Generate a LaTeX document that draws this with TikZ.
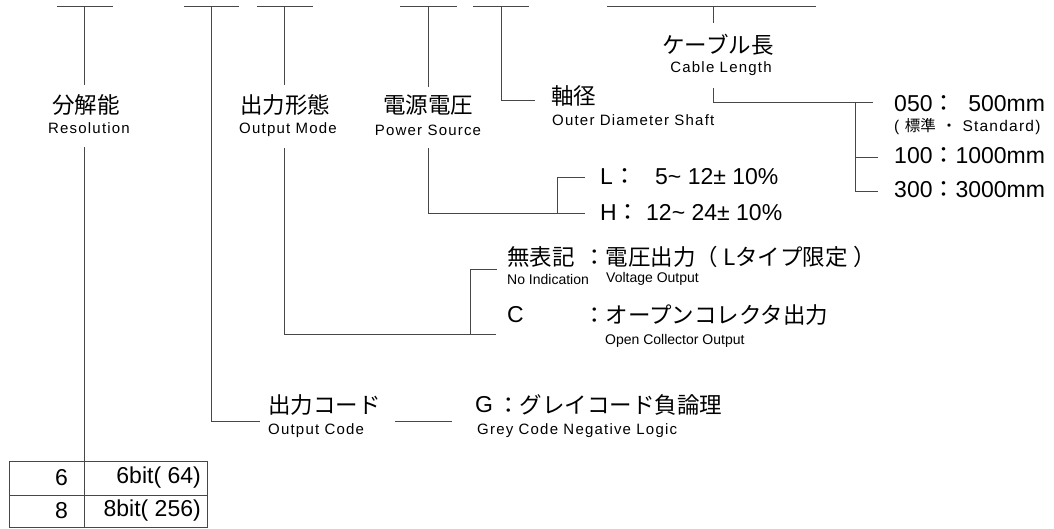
\documentclass[tikz,border=0pt]{standalone}
\usepackage{fontspec}
\setmainfont{Liberation Sans}
\newfontfamily\jp{Noto Sans CJK JP}
\newfontfamily\spc[LetterSpace=8]{Liberation Sans}
\begin{document}
\begin{tikzpicture}[x=1pt,y=-1pt,
  ln/.style={draw=black!72, line width=0.8pt},
  big/.style={inner sep=0pt, font=\fontsize{23}{26}\selectfont},
  jbig/.style={inner sep=0pt, font=\fontsize{22.5}{26}\selectfont\jp},
  lab/.style={inner sep=0pt, font=\fontsize{15}{17}\selectfont\spc},
  note/.style={inner sep=0pt, font=\fontsize{14}{16}\selectfont},
]
\useasboundingbox (0,0) rectangle (1054,528);

% top bars
\foreach \a/\b/\n in {57/113/1,184/239/2,257/313/3,400/457/4,473/529/5,607/816/6}
  {\draw[ln] (\a,6) coordinate (bl\n) -- (\b,6) coordinate (br\n);}
\coordinate (s1) at (84,6);
\coordinate (s2) at (211,6);
\coordinate (s3) at (284,6);
\coordinate (s4) at (428,6);
\coordinate (s5) at (501,6);
\coordinate (s6) at (713,6);

% Resolution
\node[jbig] (resj) at (86,105) {分解能};
\node[lab] (rese) at (89,128) {Resolution};
\coordinate (r1) at (84,85);
\coordinate (r2) at (84,147);
\coordinate (r3) at (84,527);
\draw[ln] (s1) -- (r1);
\draw[ln] (r2) -- (r3);

% table
\coordinate (tl) at (9,461);
\coordinate (br) at (207,527);
\coordinate (ml) at (9,495);
\coordinate (mr) at (207,495);
\draw[ln] (tl) rectangle (br);
\draw[ln] (ml) -- (mr);
\node[big, anchor=east] (t6a) at (68,478) {6};
\node[big, anchor=east] (t6b) at (201,478) {6bit( 64)};
\node[big, anchor=east] (t8a) at (68,511) {8};
\node[big, anchor=east] (t8b) at (201,511) {8bit( 256)};

% Output code
\node[jbig, anchor=west] (ocj) at (268,405) {出力コード};
\node[lab, anchor=west] (oce) at (268,431) {Output Code};
\coordinate (oc1) at (260,421);
\draw[ln] (s2) |- (oc1);
\coordinate (g1) at (395,421);
\coordinate (g2) at (452,421);
\draw[ln] (g1) -- (g2);
\node[big, anchor=west] (gg) at (475,405) {G};
\node[jbig, anchor=west] (ggt) at (497,405) {：グレイコード負論理};
\node[lab, anchor=west] (gge) at (477,431) {Grey Code Negative Logic};

% Output mode
\node[jbig] (modej) at (285,105) {出力形態};
\node[lab] (modee) at (288,130) {Output Mode};
\coordinate (m1) at (284,85);
\coordinate (m2) at (284,148);
\coordinate (m3) at (496,334);
\coordinate (m4) at (470,334);
\coordinate (m5) at (497,269);
\draw[ln] (s3) -- (m1);
\draw[ln] (m2) |- (m3);
\draw[ln] (m4) |- (m5);
\node[jbig, anchor=west] (nij) at (507,257) {無表記};
\node[jbig, anchor=west] (nit) at (583,257) {：電圧出力（ Lタイプ限定 ）};
\node[note, anchor=west] (nie) at (507,279) {No Indication};
\node[note, anchor=west] (vo) at (606,279) {Voltage Output};
\node[big, anchor=west] (cc) at (507,315) {C};
\node[jbig, anchor=west] (cct) at (583,315) {：オープンコレクタ出力};
\node[note, anchor=west] (cce) at (605,341) {Open Collector Output};

% Power source
\node[jbig] (powj) at (428,105) {電源電圧};
\node[lab] (powe) at (428,130) {Power Source};
\coordinate (p1) at (428,87);
\coordinate (p2) at (428,148);
\coordinate (p3) at (585,213);
\coordinate (p4) at (557,213);
\coordinate (p5) at (585,177);
\draw[ln] (s4) -- (p1);
\draw[ln] (p2) |- (p3);
\draw[ln] (p4) |- (p5);
\node[big, anchor=west] (vl) at (600,177) {L{\jp ：}\ \phantom{1}5\textasciitilde{} 12± 10\%};
\node[big, anchor=west] (vh) at (600,213) {H{\jp ：}\ 12\textasciitilde{} 24± 10\%};

% Shaft
\coordinate (sh1) at (535,100);
\draw[ln] (s5) |- (sh1);
\node[jbig, anchor=west] (shj) at (551,96) {軸径};
\node[lab, anchor=west] (she) at (552,120) {Outer Diameter Shaft};

% Cable length
\node[jbig] (cabj) at (718,45) {ケーブル長};
\node[lab] (cabe) at (721,69) {Cable Length};
\coordinate (c1) at (713,23);
\coordinate (c2) at (713,88);
\coordinate (c3) at (873,102);
\coordinate (c4) at (855,102);
\coordinate (c5) at (878,191);
\coordinate (c6) at (855,157);
\coordinate (c7) at (878,157);
\draw[ln] (s6) -- (c1);
\draw[ln] (c2) |- (c3);
\draw[ln] (c4) |- (c5);
\draw[ln] (c6) -- (c7);
\node[big, anchor=west] (l050) at (894,104) {050{\jp ：}\phantom{1}500mm};
\node[anchor=west, inner sep=0pt, font=\fontsize{15.5}{17}\selectfont\spc] (std) at (894,127) {( {\jp 標準} {\jp ・} Standard)};
\node[big, anchor=west] (l100) at (894,156) {100{\jp ：}1000mm};
\node[big, anchor=west] (l300) at (894,190) {300{\jp ：}3000mm};
\end{tikzpicture}
\end{document}
